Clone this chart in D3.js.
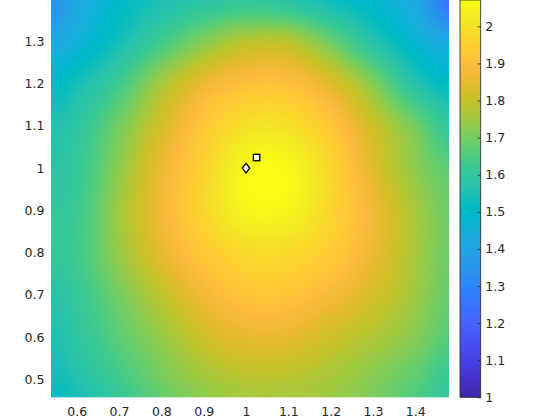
<!DOCTYPE html>
<html><head><meta charset="utf-8">
<script src="https://cdn.jsdelivr.net/npm/d3@7"></script>
<style>body{margin:0;background:#fff}</style>
</head><body>
<svg id="chart" width="560" height="420"></svg>
<script>
// ---- data ----
const xGrid = [0.539, 0.6, 0.7, 0.8, 0.9, 1.0, 1.1, 1.2, 1.3, 1.4, 1.48];
const yGrid = [1.398, 1.3, 1.2, 1.1, 1.0, 0.9, 0.8, 0.7, 0.6, 0.5, 0.458];
const zGrid = [
  [1.34, 1.42, 1.50, 1.55, 1.58, 1.60, 1.58, 1.53, 1.49, 1.42, 1.25],
  [1.42, 1.46, 1.54, 1.63, 1.72, 1.78, 1.78, 1.69, 1.57, 1.48, 1.42],
  [1.50, 1.54, 1.63, 1.76, 1.86, 1.91, 1.91, 1.84, 1.72, 1.57, 1.51],
  [1.56, 1.59, 1.70, 1.82, 1.93, 2.00, 2.00, 1.93, 1.81, 1.70, 1.60],
  [1.58, 1.61, 1.73, 1.86, 1.96, 2.06, 2.06, 1.97, 1.84, 1.73, 1.67],
  [1.60, 1.62, 1.75, 1.87, 1.97, 2.05, 2.05, 1.97, 1.87, 1.76, 1.69],
  [1.60, 1.63, 1.74, 1.85, 1.93, 1.98, 1.98, 1.94, 1.86, 1.76, 1.69],
  [1.57, 1.61, 1.70, 1.79, 1.87, 1.92, 1.92, 1.88, 1.82, 1.75, 1.68],
  [1.55, 1.59, 1.67, 1.74, 1.81, 1.85, 1.85, 1.81, 1.77, 1.72, 1.66],
  [1.53, 1.56, 1.63, 1.70, 1.75, 1.78, 1.78, 1.76, 1.72, 1.67, 1.61],
  [1.51, 1.54, 1.61, 1.68, 1.73, 1.76, 1.76, 1.75, 1.71, 1.65, 1.60]
];
const xTicks = [0.6, 0.7, 0.8, 0.9, 1, 1.1, 1.2, 1.3, 1.4];
const yTicks = [0.5, 0.6, 0.7, 0.8, 0.9, 1, 1.1, 1.2, 1.3];
const cTicks = [1, 1.1, 1.2, 1.3, 1.4, 1.5, 1.6, 1.7, 1.8, 1.9, 2];
const xDomain = [0.5393, 1.4796];
const yDomain = [0.458, 1.3975];
const cDomain = [1, 2.071];
const diamondPoint = [1.0, 1.0];
const squarePoint = [1.025, 1.025];

// parula colormap (64 entries)
const parula = [
[0.2422,0.1504,0.6603],[0.2504,0.1650,0.7076],[0.2578,0.1818,0.7511],[0.2647,0.1978,0.7952],
[0.2706,0.2147,0.8364],[0.2751,0.2342,0.8710],[0.2783,0.2559,0.8991],[0.2803,0.2782,0.9221],
[0.2813,0.3006,0.9414],[0.2810,0.3228,0.9579],[0.2795,0.3447,0.9717],[0.2760,0.3667,0.9829],
[0.2699,0.3892,0.9906],[0.2602,0.4123,0.9952],[0.2440,0.4358,0.9988],[0.2206,0.4603,0.9973],
[0.1963,0.4847,0.9892],[0.1834,0.5074,0.9798],[0.1786,0.5289,0.9682],[0.1764,0.5499,0.9520],
[0.1687,0.5703,0.9359],[0.1540,0.5902,0.9218],[0.1460,0.6091,0.9079],[0.1380,0.6276,0.8973],
[0.1248,0.6459,0.8883],[0.1113,0.6635,0.8763],[0.0952,0.6798,0.8598],[0.0689,0.6948,0.8394],
[0.0297,0.7082,0.8163],[0.0036,0.7203,0.7917],[0.0067,0.7312,0.7660],[0.0433,0.7411,0.7394],
[0.0964,0.7500,0.7120],[0.1408,0.7584,0.6842],[0.1717,0.7670,0.6554],[0.1938,0.7758,0.6251],
[0.2161,0.7843,0.5923],[0.2470,0.7918,0.5567],[0.2906,0.7973,0.5188],[0.3406,0.8008,0.4789],
[0.3909,0.8029,0.4354],[0.4456,0.8024,0.3909],[0.5044,0.7993,0.3480],[0.5616,0.7942,0.3045],
[0.6174,0.7876,0.2612],[0.6720,0.7793,0.2227],[0.7242,0.7698,0.1910],[0.7738,0.7598,0.1646],
[0.8203,0.7498,0.1535],[0.8634,0.7406,0.1596],[0.9035,0.7330,0.1774],[0.9393,0.7288,0.2100],
[0.9728,0.7298,0.2394],[0.9956,0.7434,0.2371],[0.9970,0.7659,0.2199],[0.9952,0.7893,0.2028],
[0.9892,0.8136,0.1885],[0.9786,0.8386,0.1766],[0.9676,0.8639,0.1643],[0.9610,0.8890,0.1537],
[0.9597,0.9135,0.1423],[0.9628,0.9373,0.1265],[0.9691,0.9606,0.1064],[0.9769,0.9839,0.0805]
].map(c => d3.rgb(c[0]*255, c[1]*255, c[2]*255));

// ---- layout ----
const plot = {left: 51, right: 449, top: 0, bottom: 397.3};
const cbar = {left: 460, right: 480.7};
const FONT = "'DejaVu Sans', sans-serif";
const TXT = "#262626";

const svg = d3.select("#chart");
const x = d3.scaleLinear().domain(xDomain).range([plot.left, plot.right]);
const y = d3.scaleLinear().domain(yDomain).range([plot.bottom, plot.top]);
const cY = d3.scaleLinear().domain(cDomain).range([plot.bottom, plot.top]);
const color = d3.scaleLinear()
  .domain(parula.map((_, i) => cDomain[0] + i / (parula.length - 1) * (cDomain[1] - cDomain[0])))
  .range(parula).clamp(true);

// index mapping for interpolated shading
const xi = d3.scaleLinear().domain(xGrid).range(d3.range(xGrid.length)).clamp(true);
const yi = d3.scaleLinear().domain(yGrid).range(d3.range(yGrid.length)).clamp(true);
function cr(p0, p1, p2, p3, t) {
  return p1 + 0.5 * t * (p2 - p0 + t * (2 * p0 - 5 * p1 + 4 * p2 - p3 + t * (3 * (p1 - p2) + p3 - p0)));
}
const nx = xGrid.length, ny = yGrid.length;
const cl = (v, n) => Math.max(0, Math.min(n - 1, v));
function rowVal(j, fx) {
  const i = Math.min(Math.floor(fx), nx - 2), t = fx - i;
  const r = zGrid[cl(j, ny)];
  return cr(r[cl(i - 1, nx)], r[cl(i, nx)], r[cl(i + 1, nx)], r[cl(i + 2, nx)], t);
}
function field(vx, vy) {
  const fx = xi(vx), fy = yi(vy);
  const j = Math.min(Math.floor(fy), ny - 2), t = fy - j;
  return cr(rowVal(j - 1, fx), rowVal(j, fx), rowVal(j + 1, fx), rowVal(j + 2, fx), t);
}

// ---- heat map image ----
const W = Math.round(plot.right - plot.left), H = Math.round(plot.bottom - plot.top);
const canvas = document.createElement("canvas");
canvas.width = W; canvas.height = H;
const ctx = canvas.getContext("2d");
const img = ctx.createImageData(W, H);
for (let py = 0; py < H; py++) {
  const vy = y.invert(plot.top + py + 0.5);
  for (let px = 0; px < W; px++) {
    const vx = x.invert(plot.left + px + 0.5);
    const rgb = d3.rgb(color(field(vx, vy)));
    const k = (py * W + px) * 4;
    img.data[k] = rgb.r; img.data[k + 1] = rgb.g; img.data[k + 2] = rgb.b; img.data[k + 3] = 255;
  }
}
ctx.putImageData(img, 0, 0);
svg.append("image")
  .attr("x", plot.left).attr("y", plot.top)
  .attr("width", plot.right - plot.left).attr("height", plot.bottom - plot.top)
  .attr("preserveAspectRatio", "none")
  .attr("href", canvas.toDataURL());

// ---- axes ----
const fmt = d => String(+d.toFixed(2));
const gx = svg.append("g").attr("transform", `translate(0,${plot.bottom})`)
  .call(d3.axisBottom(x).tickValues(xTicks).tickFormat(fmt).tickSize(0).tickPadding(9.7));
const gy = svg.append("g").attr("transform", `translate(${plot.left},0)`)
  .call(d3.axisLeft(y).tickValues(yTicks).tickFormat(fmt).tickSize(0).tickPadding(6.5));
[gx, gy].forEach(g => {
  g.select(".domain").remove();
  g.selectAll("text").attr("fill", TXT).style("font-family", FONT).style("font-size", "12.5px");
});

// ---- markers ----
svg.append("path")
  .attr("d", () => {
    const cx = x(diamondPoint[0]), cy = y(diamondPoint[1]);
    return `M${cx},${cy - 4.8}L${cx + 3.7},${cy}L${cx},${cy + 4.8}L${cx - 3.7},${cy}Z`;
  })
  .attr("fill", "#fff").attr("stroke", "#000").attr("stroke-width", 1.3);
svg.append("rect")
  .attr("x", x(squarePoint[0]) - 3.2).attr("y", y(squarePoint[1]) - 3.2)
  .attr("width", 6.4).attr("height", 6.4)
  .attr("fill", "#fff").attr("stroke", "#000").attr("stroke-width", 1.3);

// ---- colorbar ----
const defs = svg.append("defs");
const grad = defs.append("linearGradient").attr("id", "cbgrad")
  .attr("x1", 0).attr("y1", 1).attr("x2", 0).attr("y2", 0);
parula.forEach((c, i) => grad.append("stop")
  .attr("offset", i / (parula.length - 1)).attr("stop-color", c.formatHex()));
svg.append("rect")
  .attr("x", cbar.left).attr("y", plot.top)
  .attr("width", cbar.right - cbar.left).attr("height", plot.bottom - plot.top)
  .attr("fill", "url(#cbgrad)").attr("stroke", TXT).attr("stroke-width", 0.8);
const gc = svg.append("g").attr("transform", `translate(${cbar.right},0)`)
  .call(d3.axisRight(cY).tickValues(cTicks).tickFormat(fmt).tickSizeInner(-3).tickSizeOuter(0).tickPadding(4.5));
gc.select(".domain").remove();
gc.selectAll("line").attr("stroke", TXT).attr("stroke-width", 0.8);
gc.selectAll("text").attr("fill", TXT).style("font-family", FONT).style("font-size", "12.5px")
  .attr("x", 4.5);
</script>
</body></html>
